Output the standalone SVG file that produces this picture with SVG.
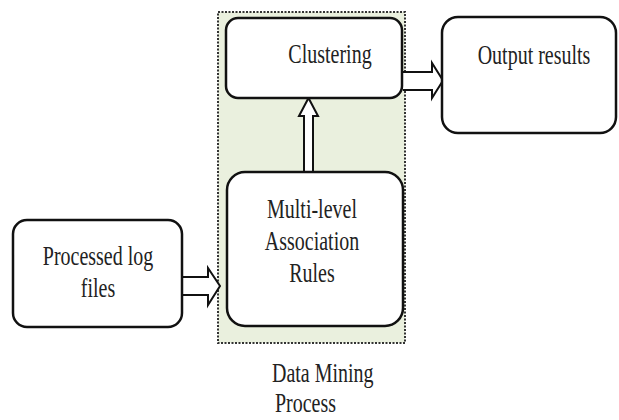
<svg xmlns="http://www.w3.org/2000/svg" width="619" height="420" viewBox="0 0 619 420">
<style>
.box{fill:#fff;stroke:#111;stroke-width:2.5}
.arr{fill:#fff;stroke:#111;stroke-width:2;stroke-linejoin:miter}
text{font-family:"Liberation Serif","Times New Roman",serif;font-size:27px;fill:#222}
.c{text-anchor:middle}
</style>
<rect width="619" height="420" fill="#fff"/>
<g id="container">
<rect x="218" y="12" width="187" height="331" fill="#eaf0de" stroke="#333" stroke-width="2" stroke-dasharray="2 1.5"/>
<text transform="translate(272,382) scale(0.74,1)">Data Mining</text>
<text transform="translate(275,412) scale(0.74,1)">Process</text>
</g>
<g id="connectors">
<path class="arr" d="M182,277 H208 V268 L220,286 L208,305 V295 H182"/>
<path class="arr" d="M304,172 V116 H299 L308.5,98 L318,116 H313 V172 Z"/>
<path class="arr" d="M403,72 H432 V63 L443,80.5 L432,98 V90 H403"/>
</g>
<g id="clustering">
<rect class="box" x="226" y="18" width="176" height="80" rx="12"/>
<text class="c" transform="translate(330,63) scale(0.74,1)">Clustering</text>
</g>
<g id="multilevel">
<rect class="box" x="227" y="172" width="176" height="154" rx="18"/>
<text class="c" transform="translate(312,218) scale(0.74,1)">Multi-level</text>
<text class="c" transform="translate(312,250) scale(0.74,1)">Association</text>
<text class="c" transform="translate(312,282) scale(0.74,1)">Rules</text>
</g>
<g id="processed">
<rect class="box" x="13" y="220" width="169" height="107" rx="14"/>
<text class="c" transform="translate(98,265) scale(0.74,1)">Processed log</text>
<text class="c" transform="translate(98,297) scale(0.74,1)">files</text>
</g>
<g id="output">
<rect class="box" x="442" y="17" width="174" height="116" rx="16"/>
<text class="c" transform="translate(534,64) scale(0.74,1)">Output results</text>
</g>
</svg>
